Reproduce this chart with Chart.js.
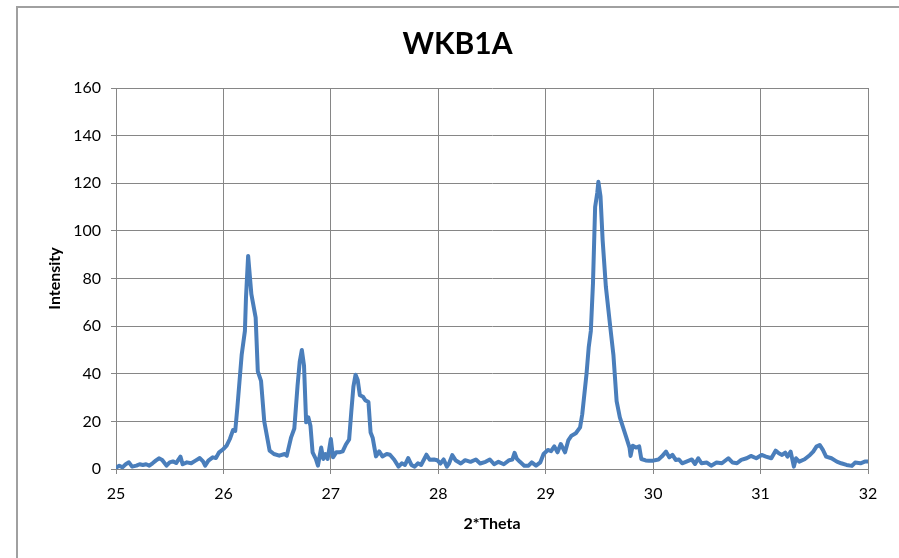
<!DOCTYPE html>
<html>
<head>
<meta charset="utf-8">
<title>WKB1A</title>
<script src="https://cdn.jsdelivr.net/npm/chart.js@4.4.1/dist/chart.umd.min.js"></script>
<style>
  html, body { margin: 0; padding: 0; background: #fff; }
  canvas { display: block; }
</style>
</head>
<body>
<canvas id="xrd" width="899" height="558"></canvas>
<script>
// values
const twoTheta = [
  25.00, 25.03, 25.06, 25.09, 25.12, 25.15, 25.19, 25.22, 25.25, 25.28, 25.31, 25.34, 25.37, 25.40, 25.43, 25.47,
  25.50, 25.53, 25.56, 25.60, 25.62, 25.66, 25.70, 25.74, 25.78, 25.81, 25.83, 25.86, 25.90, 25.93, 25.96,
  26.00, 26.03, 26.06, 26.09, 26.11, 26.13, 26.17, 26.20, 26.21, 26.23, 26.26, 26.30, 26.32, 26.35, 26.38,
  26.43, 26.47, 26.52, 26.57, 26.59, 26.63, 26.66, 26.69, 26.71, 26.73, 26.75, 26.77, 26.79, 26.81, 26.83,
  26.86, 26.88, 26.91, 26.93, 26.95, 26.97,
  27.00, 27.02, 27.05, 27.08, 27.11, 27.14, 27.17, 27.19, 27.21, 27.23, 27.25, 27.27, 27.30, 27.32, 27.35,
  27.37, 27.39, 27.42, 27.45, 27.48, 27.52, 27.55, 27.59, 27.63, 27.66, 27.69, 27.72, 27.75, 27.78, 27.81,
  27.84, 27.89, 27.92, 27.96, 27.99,
  28.02, 28.05, 28.08, 28.10, 28.13, 28.16, 28.21, 28.25, 28.30, 28.35, 28.39, 28.44, 28.48, 28.52, 28.56,
  28.61, 28.66, 28.69, 28.71, 28.73, 28.76, 28.80, 28.84, 28.87, 28.91, 28.95, 28.98,
  29.02, 29.05, 29.08, 29.11, 29.14, 29.18, 29.21, 29.24, 29.28, 29.32, 29.34, 29.38, 29.40, 29.42, 29.44,
  29.46, 29.48, 29.49, 29.51, 29.53, 29.56, 29.60, 29.63, 29.66, 29.69, 29.72, 29.75, 29.78, 29.79, 29.81,
  29.84, 29.87, 29.89, 29.93, 29.96,
  30.00, 30.05, 30.08, 30.12, 30.15, 30.18, 30.21, 30.24, 30.27, 30.31, 30.36, 30.39, 30.42, 30.45, 30.50,
  30.54, 30.59, 30.64, 30.70, 30.74, 30.78, 30.82, 30.87, 30.91, 30.96,
  31.01, 31.05, 31.10, 31.14, 31.17, 31.20, 31.23, 31.25, 31.28, 31.31, 31.33, 31.36, 31.41, 31.46, 31.49,
  31.52, 31.55, 31.58, 31.61, 31.66, 31.71, 31.75, 31.80, 31.85, 31.88, 31.93, 31.97, 32.00
];
const intensity = [
  0.5, 1.4, 0.7, 2, 2.8, 1, 1.4, 2, 1.7, 2, 1.4, 2.4, 3.5, 4.5, 3.8, 1.4,
  2.8, 3.2, 2.5, 5.2, 2, 2.8, 2.4, 3.5, 4.6, 3.2, 1.4, 3.5, 4.9, 4.6, 7,
  8.4, 9.8, 12.6, 16.4, 16, 26, 48, 58, 72, 89.5, 73.4, 63.6, 41, 37, 20,
  7.7, 6.3, 5.6, 6.3, 5.6, 13.3, 17, 35, 45, 50, 43.5, 19.6, 21.7, 18.2, 7,
  4.2, 1.4, 9, 4.2, 6.3, 4.2,
  12.6, 4.9, 7, 7, 7.4, 10.3, 12.4, 23.9, 34.6, 39.6, 37.4, 31, 30.3, 28.9, 28.1,
  15.3, 13, 5.3, 7.4, 5.3, 6.3, 6, 3.9, 1, 2.4, 1.7, 4.6, 1.7, 1, 2.4,
  1.7, 6, 3.9, 4, 3.7,
  2.3, 4, 1, 2.3, 5.8, 3.7, 2.3, 3.7, 3, 4, 2.3, 3, 4, 2, 3,
  2, 3.7, 4, 6.8, 4.4, 3, 1.4, 1.4, 2.8, 1.4, 2.8, 6.3,
  8, 7.5, 9.5, 7, 10.5, 7, 12, 14, 15, 17.5, 23, 40, 51, 58, 78,
  110, 116, 120.6, 114.5, 96, 76.5, 60, 48, 28.5, 21.7, 17.5, 13.3, 9, 5.5, 9.8,
  9, 9.5, 4.2, 3.6, 3.5,
  3.5, 4, 5.2, 7.3, 4.9, 5.9, 3.8, 4, 2.4, 3.1, 4, 2.1, 4.5, 2.4, 2.7,
  1.4, 2.7, 2.4, 4.5, 2.7, 2.4, 3.8, 4.5, 5.5, 4.5,
  5.9, 5.2, 4.5, 7.7, 6.6, 5.9, 6.9, 5.2, 7.3, 1, 4.5, 3.1, 4.1, 5.9, 7.3,
  9.4, 10.1, 8, 5.2, 4.5, 3.1, 2.4, 1.7, 1.3, 2.7, 2.4, 3.1, 3.1
];
const xRange = [25, 32];
const yRange = [0, 160];

const points = twoTheta.map((t, i) => ({ x: t, y: intensity[i] }));

// grey frame of the chart object (top and left edges only, like the screenshot)
const frame = {
  id: 'frame',
  beforeDraw(chart) {
    const c = chart.ctx;
    c.save();
    c.strokeStyle = '#a0a0a0';
    c.lineWidth = 2;
    c.beginPath();
    c.moveTo(17, 560);
    c.lineTo(17, 7);
    c.lineTo(900, 7);
    c.stroke();
    c.restore();
  }
};

const tickFont = { family: 'Lato, "Open Sans", sans-serif', size: 16 };
const axisTitleFont = { family: 'Lato, "Open Sans", sans-serif', size: 16, weight: 'bold' };
const gridColor = '#868686';

new Chart(document.getElementById('xrd'), {
  type: 'line',
  data: {
    datasets: [{
      label: 'WKB1A',
      data: points,
      borderColor: '#4a7ebb',
      borderWidth: 4,
      pointRadius: 0,
      tension: 0,
      borderJoinStyle: 'round',
      borderCapStyle: 'round'
    }]
  },
  options: {
    responsive: false,
    animation: false,
    // left padding shifts the title centre to the right, as in the original
    layout: { padding: { left: 47, right: 31, top: 0, bottom: 0 } },
    plugins: {
      legend: { display: false },
      tooltip: { enabled: false },
      title: {
        display: true,
        text: 'WKB1A',
        color: '#000',
        font: { family: 'Lato, "Open Sans", sans-serif', size: 30, weight: 'bold' },
        padding: { top: 26, bottom: 26 }
      }
    },
    scales: {
      x: {
        type: 'linear',
        min: xRange[0],
        max: xRange[1],
        ticks: { stepSize: 1, color: '#000', font: tickFont, padding: 10, maxRotation: 0 },
        grid: { color: gridColor, tickLength: 5, lineWidth: 1 },
        border: { color: gridColor },
        title: { display: true, text: '2*Theta', color: '#000', font: axisTitleFont, padding: { top: 0, bottom: 25 } },
        afterFit(scale) { scale.height = 89; }
      },
      y: {
        min: yRange[0],
        max: yRange[1],
        ticks: { stepSize: 20, color: '#000', font: tickFont, padding: 10 },
        grid: { color: gridColor, tickLength: 5, lineWidth: 1 },
        border: { color: gridColor },
        title: { display: true, text: 'Intensity', color: '#000', font: axisTitleFont, padding: { top: -2, bottom: 0 } },
        afterFit(scale) { scale.width = 69; }
      }
    }
  },
  plugins: [frame]
});
</script>
</body>
</html>
